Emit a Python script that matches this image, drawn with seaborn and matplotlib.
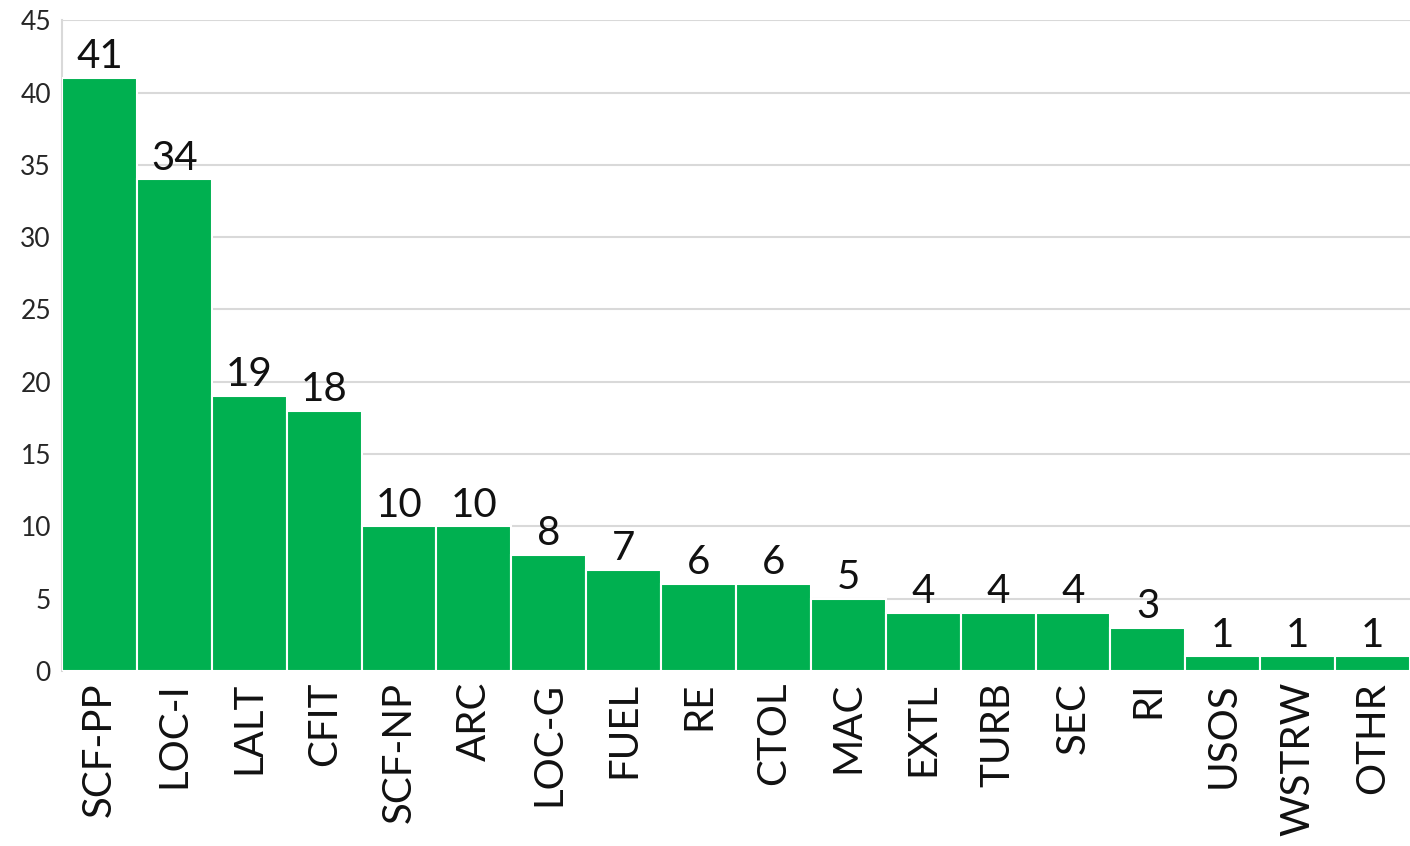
import matplotlib
matplotlib.use("Agg")
import matplotlib.pyplot as plt
import seaborn as sns
import pandas as pd

categories = ["SCF-PP", "LOC-I", "LALT", "CFIT", "SCF-NP", "ARC", "LOC-G", "FUEL",
              "RE", "CTOL", "MAC", "EXTL", "TURB", "SEC", "RI", "USOS", "WSTRW", "OTHR"]
counts = [41, 34, 19, 18, 10, 10, 8, 7, 6, 6, 5, 4, 4, 4, 3, 1, 1, 1]
y_ticks = [0, 5, 10, 15, 20, 25, 30, 35, 40, 45]

sns.set_style("white")
plt.rcParams['font.family'] = ['Lato', 'DejaVu Sans']

df = pd.DataFrame({"category": categories, "count": counts})

fig = plt.figure(figsize=(14.1, 8.46), dpi=100)
ax = fig.add_axes([0.044, 0.207, 0.956, 0.769])

sns.barplot(data=df, x="category", y="count", color="#00B050", saturation=1,
            width=1.0, edgecolor="white", linewidth=1.5, ax=ax, zorder=3)

ax.set_ylim(0, 45)
ax.set_xlim(-0.5, len(categories) - 0.5)
ax.set_yticks(y_ticks)
ax.yaxis.grid(True, color="#d9d9d9", linewidth=1.5, zorder=0)
ax.set_axisbelow(True)
for side in ["top", "right", "bottom"]:
    ax.spines[side].set_visible(False)
ax.spines["left"].set_color("#d9d9d9")
ax.spines["left"].set_linewidth(1.5)

ax.tick_params(axis="y", labelsize=19, colors="#262626", length=0, pad=8)
ax.tick_params(axis="x", labelsize=29, colors="#111111", length=0, pad=8, rotation=90)
ax.set_xlabel("")
ax.set_ylabel("")

ax.bar_label(ax.containers[0], fontsize=29, color="#111111", padding=2)

fig.savefig("out.png", dpi=100)
